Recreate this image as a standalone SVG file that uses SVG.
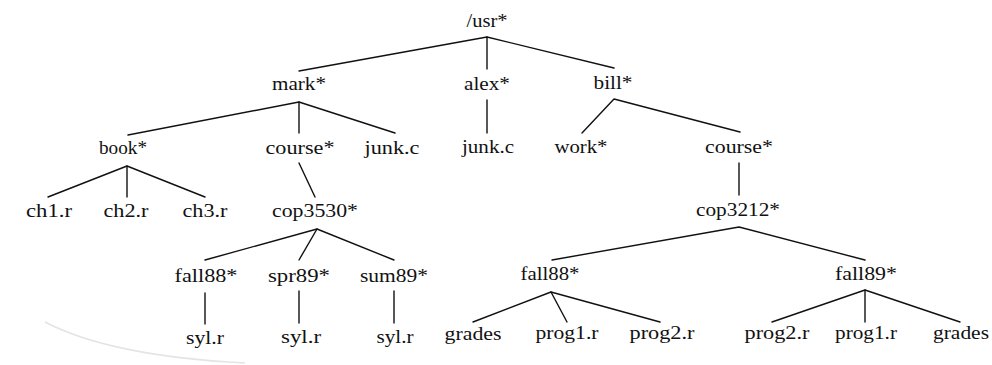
<svg xmlns="http://www.w3.org/2000/svg" width="992" height="365" viewBox="0 0 992 365">
<style>
  text { font-family: "Liberation Serif", "Times New Roman", serif; font-size: 18px; fill: #111; text-anchor: middle; }
  .edge { stroke: #111; stroke-width: 1.4; fill: none; stroke-linecap: round; stroke-linejoin: round; }
  .smudge { stroke: #e4e4e4; stroke-width: 1.5; fill: none; }
</style>
<rect width="992" height="365" fill="#ffffff"/>
<path class="smudge" d="M 45 322 Q 110 356 245 363"/>
<g id="connectors">
  <polyline class="edge" points="299,71 487,37 614,68"/>
  <line class="edge" x1="487" y1="37" x2="487" y2="69"/>
  <polyline class="edge" points="128,135 299,102 395,133"/>
  <line class="edge" x1="299" y1="102" x2="299" y2="133"/>
  <line class="edge" x1="487" y1="100" x2="487" y2="133"/>
  <polyline class="edge" points="582,133 614,99 740,132"/>
  <polyline class="edge" points="48,197 127,166 205,197"/>
  <line class="edge" x1="127" y1="166" x2="127" y2="197"/>
  <line class="edge" x1="299" y1="163" x2="315" y2="197"/>
  <line class="edge" x1="739" y1="163" x2="739" y2="195"/>
  <polyline class="edge" points="205,260 317,229 394,260"/>
  <line class="edge" x1="317" y1="229" x2="299" y2="260"/>
  <polyline class="edge" points="552,260 739,227 865,260"/>
  <line class="edge" x1="205" y1="293" x2="205" y2="324"/>
  <line class="edge" x1="299" y1="291" x2="299" y2="323"/>
  <line class="edge" x1="394" y1="291" x2="394" y2="323"/>
  <polyline class="edge" points="473,322 551,292 660,322"/>
  <line class="edge" x1="551" y1="292" x2="567" y2="322"/>
  <polyline class="edge" points="772,322 865,290 960,322"/>
  <line class="edge" x1="865" y1="290" x2="865" y2="322"/>
</g>
<g id="n-usr"><text x="487" y="27" textLength="41" lengthAdjust="spacingAndGlyphs">/usr*</text></g>
<g id="n-mark"><text x="299" y="90" textLength="54" lengthAdjust="spacingAndGlyphs">mark*</text></g>
<g id="n-alex"><text x="487" y="90" textLength="46" lengthAdjust="spacingAndGlyphs">alex*</text></g>
<g id="n-bill"><text x="613" y="89" textLength="39" lengthAdjust="spacingAndGlyphs">bill*</text></g>
<g id="n-book"><text x="123" y="154" textLength="48" lengthAdjust="spacingAndGlyphs">book*</text></g>
<g id="n-mark-course"><text x="300" y="154" textLength="69" lengthAdjust="spacingAndGlyphs">course*</text></g>
<g id="n-mark-junk"><text x="392" y="154" textLength="55" lengthAdjust="spacingAndGlyphs">junk.c</text></g>
<g id="n-alex-junk"><text x="488" y="153" textLength="52" lengthAdjust="spacingAndGlyphs">junk.c</text></g>
<g id="n-work"><text x="581" y="153" textLength="53" lengthAdjust="spacingAndGlyphs">work*</text></g>
<g id="n-bill-course"><text x="739" y="153" textLength="68" lengthAdjust="spacingAndGlyphs">course*</text></g>
<g id="n-ch1"><text x="49" y="217" textLength="46" lengthAdjust="spacingAndGlyphs">ch1.r</text></g>
<g id="n-ch2"><text x="126" y="217" textLength="45" lengthAdjust="spacingAndGlyphs">ch2.r</text></g>
<g id="n-ch3"><text x="205" y="217" textLength="45" lengthAdjust="spacingAndGlyphs">ch3.r</text></g>
<g id="n-cop3530"><text x="315" y="217" textLength="86" lengthAdjust="spacingAndGlyphs">cop3530*</text></g>
<g id="n-cop3212"><text x="738" y="216" textLength="84" lengthAdjust="spacingAndGlyphs">cop3212*</text></g>
<g id="n-fall88a"><text x="206" y="282" textLength="63" lengthAdjust="spacingAndGlyphs">fall88*</text></g>
<g id="n-spr89"><text x="299" y="282" textLength="62" lengthAdjust="spacingAndGlyphs">spr89*</text></g>
<g id="n-sum89"><text x="394" y="282" textLength="68" lengthAdjust="spacingAndGlyphs">sum89*</text></g>
<g id="n-fall88b"><text x="550" y="280" textLength="59" lengthAdjust="spacingAndGlyphs">fall88*</text></g>
<g id="n-fall89"><text x="866" y="280" textLength="62" lengthAdjust="spacingAndGlyphs">fall89*</text></g>
<g id="n-syl1"><text x="205" y="344" textLength="38" lengthAdjust="spacingAndGlyphs">syl.r</text></g>
<g id="n-syl2"><text x="301" y="343" textLength="40" lengthAdjust="spacingAndGlyphs">syl.r</text></g>
<g id="n-syl3"><text x="395" y="343" textLength="37" lengthAdjust="spacingAndGlyphs">syl.r</text></g>
<g id="n-grades1"><text x="473" y="340" textLength="57" lengthAdjust="spacingAndGlyphs">grades</text></g>
<g id="n-prog1a"><text x="567" y="339" textLength="63" lengthAdjust="spacingAndGlyphs">prog1.r</text></g>
<g id="n-prog2a"><text x="662" y="339" textLength="65" lengthAdjust="spacingAndGlyphs">prog2.r</text></g>
<g id="n-prog2b"><text x="777" y="339" textLength="65" lengthAdjust="spacingAndGlyphs">prog2.r</text></g>
<g id="n-prog1b"><text x="866" y="339" textLength="62" lengthAdjust="spacingAndGlyphs">prog1.r</text></g>
<g id="n-grades2"><text x="961" y="339" textLength="56" lengthAdjust="spacingAndGlyphs">grades</text></g>
</svg>
